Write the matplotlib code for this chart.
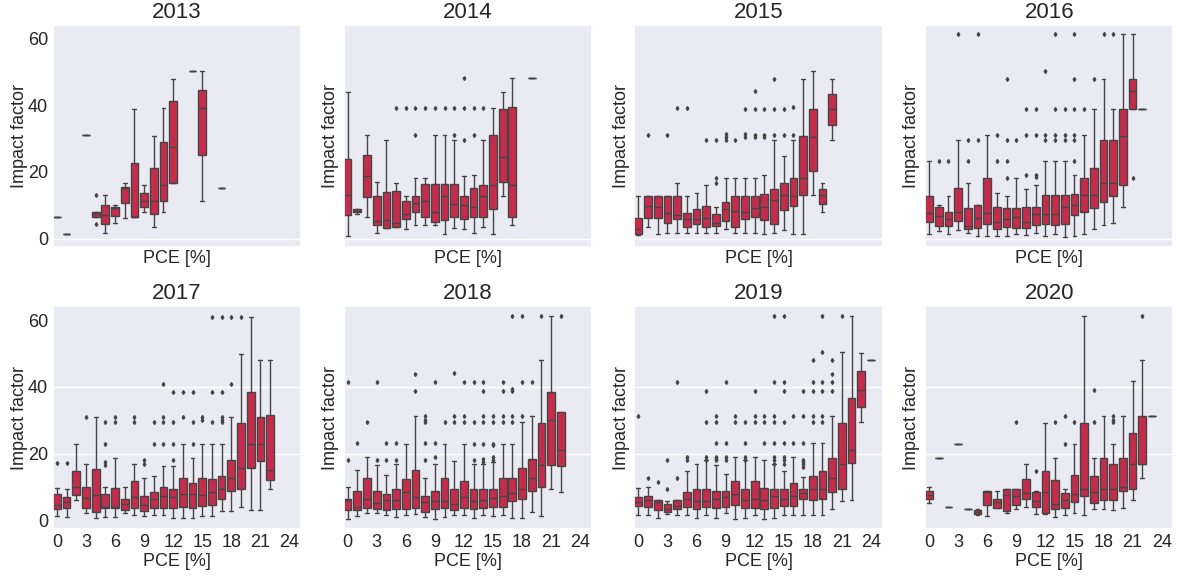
import matplotlib
matplotlib.use("Agg")
import matplotlib.pyplot as plt
import seaborn as sns

# ---- data, one set of box statistics per year ----
# 2013
pce_2013 = [0, 1, 3, 4, 5, 6, 7, 8, 9, 10, 11, 12, 14, 15, 17]
q1_2013 = [6.6, 1.5, 31.0, 6.6, 4.5, 6.8, 10.8, 6.5, 9.6, 7.3, 11.3, 16.6, 50.4, 25.2, 15.1]
med_2013 = [6.6, 1.5, 31.0, 7.5, 7.2, 9.2, 15.2, 6.6, 11.4, 11.4, 16.1, 27.6, 50.4, 39.1, 15.1]
q3_2013 = [6.6, 1.5, 31.0, 8.0, 10.0, 9.5, 15.6, 22.6, 13.8, 21.3, 28.9, 41.2, 50.4, 44.7, 15.1]
lo_2013 = [6.6, 1.5, 31.0, 6.6, 1.6, 4.6, 6.3, 6.5, 8.0, 3.5, 8.0, 16.6, 50.4, 11.3, 15.1]
hi_2013 = [6.6, 1.5, 31.0, 8.0, 13.0, 10.0, 16.7, 38.9, 16.1, 30.9, 39.2, 48.0, 50.4, 50.4, 15.1]
fl_2013 = [[], [], [], [13.0, 4.3], [], [], [], [], [], [], [], [], [], [], []]

# 2014
pce_2014 = [0, 1, 2, 3, 4, 5, 6, 7, 8, 9, 10, 11, 12, 13, 14, 15, 16, 17, 19]
q1_2014 = [7.1, 8.0, 12.6, 4.0, 3.3, 3.5, 5.8, 8.0, 6.6, 5.1, 5.6, 6.6, 5.8, 6.6, 6.6, 9.0, 17.0, 6.6, 48.1]
med_2014 = [13.2, 8.4, 18.9, 5.4, 5.7, 4.8, 7.5, 10.6, 11.4, 8.0, 12.9, 10.5, 10.0, 9.6, 12.9, 16.1, 24.6, 16.2, 48.1]
q3_2014 = [23.8, 8.8, 25.0, 12.8, 14.0, 14.3, 11.2, 12.9, 16.4, 16.4, 16.4, 16.4, 12.9, 15.1, 16.1, 31.0, 38.9, 39.5, 48.1]
lo_2014 = [0.8, 7.5, 6.6, 1.6, 3.2, 3.4, 3.0, 4.0, 4.2, 4.0, 1.5, 3.2, 3.0, 1.8, 3.4, 1.4, 12.8, 4.0, 48.1]
hi_2014 = [44.1, 9.0, 31.0, 17.0, 29.6, 16.6, 12.8, 18.2, 18.2, 31.0, 31.0, 29.6, 18.9, 19.0, 29.6, 39.1, 44.1, 48.1, 48.1]
fl_2014 = [[], [], [], [], [], [39.1], [39.1], [39.1, 31.1], [39.1], [39.1], [39.1], [39.1, 31.1],
           [48.1, 39.1, 29.7], [39.1, 31.1], [39.1], [], [], [], []]

# 2015
pce_2015 = list(range(0, 21))
q1_2015 = [1.3, 6.1, 6.1, 4.8, 5.8, 3.4, 4.3, 3.4, 3.8, 5.4, 3.4, 5.8, 6.6, 5.6, 4.5, 8.5, 9.8, 13.1, 20.2, 10.4, 34.2]
med_2015 = [2.8, 9.8, 9.6, 7.6, 7.2, 6.0, 5.8, 6.3, 4.6, 9.0, 8.2, 8.0, 9.3, 9.6, 11.5, 13.0, 12.8, 18.2, 30.4, 13.0, 38.9]
q3_2015 = [6.1, 12.8, 12.8, 12.8, 12.8, 7.8, 8.8, 9.8, 7.3, 11.1, 12.8, 12.8, 12.8, 13.5, 15.0, 16.6, 18.1, 30.9, 38.9, 14.8, 43.5]
lo_2015 = [1.1, 3.4, 1.5, 1.7, 1.7, 1.8, 1.8, 1.6, 1.8, 2.8, 1.8, 1.8, 1.8, 1.3, 1.6, 2.6, 1.5, 1.5, 13.0, 8.0, 29.6]
hi_2015 = [12.8, 12.8, 12.8, 12.8, 16.7, 12.8, 13.6, 16.1, 9.6, 18.2, 18.2, 18.2, 18.2, 19.0, 29.6, 24.8, 29.6, 48.0, 50.3, 16.6, 48.0]
fl_2015 = [[], [31.1], [], [31.1], [39.1], [39.1], [], [29.6], [29.6, 18.2, 16.8], [31.4, 30.4, 29.6], [29.6],
           [38.9, 31.4, 30.4], [44.2, 38.9, 31.1, 30.4], [38.9, 31.1, 30.4], [48.0, 38.9, 31.0], [38.9, 31.0],
           [39.5, 31.0], [], [], [], []]

# 2016
pce_2016 = list(range(0, 23))
q1_2016 = [5.1, 3.8, 3.8, 5.3, 2.8, 3.2, 4.5, 2.8, 3.5, 3.3, 3.3, 4.1, 4.5, 4.0, 4.3, 7.1, 8.0, 9.2, 11.1, 12.9, 16.0, 38.9, 38.9]
med_2016 = [7.6, 6.7, 5.8, 8.0, 3.8, 6.3, 7.6, 5.1, 5.8, 6.5, 5.1, 7.5, 7.5, 7.5, 9.5, 10.0, 13.0, 13.0, 16.6, 16.6, 30.9, 44.2, 38.9]
q3_2016 = [12.8, 9.6, 8.0, 15.3, 9.2, 10.1, 18.3, 9.5, 9.2, 9.2, 9.5, 9.5, 13.0, 13.0, 13.0, 13.5, 18.1, 21.1, 29.7, 29.7, 38.9, 48.0, 38.9]
lo_2016 = [1.5, 2.2, 1.5, 2.6, 1.8, 0.8, 0.8, 0.8, 0.8, 1.3, 1.0, 1.6, 0.8, 1.3, 0.5, 0.7, 1.5, 2.8, 4.0, 4.6, 9.5, 38.9, 38.9]
hi_2016 = [23.4, 10.0, 12.8, 29.6, 16.7, 10.1, 31.0, 13.6, 12.8, 18.2, 15.0, 16.1, 23.4, 23.4, 23.4, 19.1, 31.1, 38.9, 48.0, 38.9, 61.5, 61.5, 38.9]
fl_2016 = [[], [23.4], [23.4], [61.5], [29.6, 23.4], [61.5, 29.6], [], [31.1, 23.4], [48.0, 29.6, 23.3, 18.3],
           [29.6], [38.9, 31.0, 19.2], [38.9, 31.0, 19.2, 18.6], [50.2, 31.0, 29.6], [61.5, 38.9, 31.0, 29.6],
           [38.9, 31.0, 29.6], [61.5, 48.0, 38.9, 31.0, 29.6, 23.3], [38.9], [48.0], [61.5], [61.5], [], [18.3], []]

# 2017
pce_2017 = list(range(0, 23))
q1_2017 = [3.2, 3.5, 7.5, 3.5, 2.5, 3.5, 3.5, 3.0, 3.5, 2.8, 3.7, 3.7, 3.5, 3.8, 3.5, 4.2, 4.5, 6.3, 8.8, 9.2, 15.8, 17.8, 12.0]
med_2017 = [4.5, 5.5, 9.8, 6.5, 7.5, 4.0, 4.0, 4.8, 6.8, 4.5, 6.3, 7.1, 7.0, 7.7, 7.8, 7.5, 8.5, 9.3, 12.5, 15.8, 23.0, 23.0, 15.0]
q3_2017 = [7.8, 6.8, 14.8, 9.8, 15.5, 7.8, 9.5, 6.2, 11.7, 7.3, 8.3, 9.8, 9.2, 12.5, 11.0, 12.5, 12.2, 13.2, 18.0, 29.2, 38.5, 31.0, 31.5]
lo_2017 = [1.2, 0.8, 6.0, 2.0, 0.5, 0.8, 0.8, 2.0, 1.5, 1.2, 1.5, 1.5, 0.5, 0.5, 0.5, 1.2, 1.2, 2.8, 2.7, 4.0, 3.0, 3.0, 9.2]
hi_2017 = [9.7, 9.2, 23.0, 16.8, 31.0, 9.8, 18.8, 9.8, 16.8, 12.5, 13.2, 16.4, 16.4, 23.0, 18.8, 23.0, 23.0, 23.0, 31.0, 50.0, 61.0, 48.0, 48.0]
fl_2017 = [[17.2], [17.2], [], [31.0], [], [29.5, 23.0, 17.5, 16.5], [31.0, 29.5], [], [31.0, 29.5], [18.0, 17.0],
           [29.5, 23.0], [41.0, 31.0, 29.5, 23.0], [38.5, 29.5, 23.0, 18.0], [38.5, 31.0], [38.5, 29.5, 23.0],
           [31.0, 30.0], [61.0, 38.5, 29.5], [61.0, 38.5, 31.0, 30.0, 29.5], [61.0, 41.0], [61.0], [], [], []]

# 2018
pce_2018 = list(range(0, 23))
q1_2018 = [3.0, 3.0, 3.6, 3.2, 3.0, 3.4, 3.2, 3.6, 2.3, 3.2, 3.6, 3.0, 3.6, 3.2, 3.6, 4.0, 4.0, 5.8, 6.3, 8.6, 9.8, 16.5, 16.3]
med_2018 = [6.0, 4.0, 6.3, 5.0, 6.0, 6.0, 8.4, 6.8, 5.5, 5.8, 5.8, 4.7, 6.8, 5.7, 6.0, 6.5, 7.2, 8.2, 9.2, 12.6, 16.5, 30.2, 21.0]
q3_2018 = [6.2, 8.7, 12.6, 8.7, 7.9, 9.2, 12.2, 15.0, 7.2, 8.7, 12.6, 9.2, 11.8, 9.2, 9.2, 9.2, 12.6, 12.6, 15.8, 18.4, 29.3, 38.6, 32.4]
lo_2018 = [0.3, 1.3, 2.0, 2.0, 1.5, 1.0, 1.4, 1.8, 1.0, 0.4, 0.8, 1.5, 1.5, 0.5, 1.5, 1.2, 1.5, 0.5, 0.5, 2.5, 1.3, 9.2, 8.5]
hi_2018 = [9.8, 15.0, 18.9, 16.5, 13.4, 16.8, 23.0, 31.2, 12.5, 16.8, 23.0, 17.8, 23.0, 16.8, 16.8, 17.5, 23.0, 23.0, 29.5, 31.2, 48.0, 61.2, 32.4]
fl_2018 = [[41.5, 18.0], [23.2], [29.5], [41.5, 18.0], [23.2, 18.0], [23.2, 18.0], [], [44.0, 38.8],
           [31.2, 30.2, 29.5, 23.2, 18.0], [41.5, 23.2, 19.0], [29.5], [44.2, 31.2, 29.5], [41.5, 31.2, 29.5],
           [41.5, 29.5, 23.0, 18.0], [41.5, 38.8, 31.2, 29.5, 23.0, 18.4, 17.5], [31.2, 29.5, 23.0, 22.5, 19.0, 18.0],
           [41.5, 38.8, 31.2, 29.5], [61.2, 39.5, 38.8, 31.2, 29.5], [61.2, 41.5, 31.2], [41.5], [61.2], [], [61.2]]

# 2019
pce_2019 = list(range(0, 25))
q1_2019 = [4.2, 4.0, 3.0, 2.3, 3.4, 4.0, 3.4, 4.0, 3.6, 3.8, 4.4, 3.6, 3.6, 3.4, 3.6, 4.2, 4.2, 6.2, 6.0, 6.2, 8.4, 9.2, 17.2, 34.0, 48.0]
med_2019 = [5.5, 6.0, 5.5, 3.4, 4.2, 6.2, 5.8, 5.6, 6.4, 6.9, 7.8, 6.0, 6.4, 6.0, 7.2, 6.2, 7.2, 8.0, 9.2, 9.2, 12.6, 16.8, 21.0, 39.0, 48.0]
q3_2019 = [7.0, 7.2, 6.0, 4.8, 6.0, 8.4, 9.2, 9.4, 8.6, 8.8, 11.8, 9.2, 11.8, 9.6, 9.2, 9.2, 11.2, 9.2, 13.2, 14.8, 18.8, 29.2, 36.8, 44.8, 48.0]
lo_2019 = [1.4, 1.6, 0.7, 1.8, 1.4, 1.4, 0.5, 1.4, 0.5, 2.2, 0.4, 0.7, 1.4, 0.3, 0.5, 1.4, 1.4, 1.4, 1.4, 1.4, 3.4, 5.7, 6.0, 29.5, 48.0]
hi_2019 = [9.7, 10.0, 6.0, 5.8, 6.0, 14.8, 16.8, 18.0, 16.5, 13.8, 19.0, 18.0, 19.0, 18.0, 16.8, 14.8, 19.0, 13.0, 23.2, 23.2, 31.2, 50.4, 61.2, 50.2, 48.0]
fl_2019 = [[31.2], [12.7], [11.3], [18.0, 9.2], [41.5, 12.7], [19.0, 18.0], [], [38.8, 29.5, 19.0, 18.0],
           [31.2, 29.5, 23.2, 19.0, 18.5, 18.0], [41.5, 23.2, 19.0, 18.0], [31.2, 29.5], [29.5, 23.2, 19.0, 18.0],
           [38.8, 31.2, 29.5], [31.2, 29.5, 23.2], [61.2, 41.5, 31.2, 29.5, 23.2, 19.0, 18.0, 17.0],
           [61.2, 41.5, 38.8, 29.5, 23.2, 19.0, 18.0, 17.0], [31.2, 23.2], [38.8, 31.2, 23.2, 18.0, 17.5, 16.8, 16.0],
           [48.0, 41.5, 38.8, 31.2, 29.5], [61.2, 50.4, 41.5, 38.8, 31.2, 29.5], [48.0, 44.0, 41.5, 38.8],
           [61.2], [], [], []]

# 2020
pce_2020 = list(range(0, 24))
q1_2020 = [6.2, 18.8, 4.0, 23.0, 3.4, 1.8, 4.6, 3.6, 2.8, 4.4, 6.4, 4.0, 2.2, 3.4, 3.6, 5.4, 7.2, 5.2, 6.0, 6.0, 8.6, 9.2, 16.8, 31.2]
med_2020 = [7.5, 18.8, 4.0, 23.0, 3.4, 2.4, 8.4, 5.5, 7.5, 7.2, 8.0, 5.6, 8.4, 4.7, 5.9, 7.7, 9.2, 8.4, 9.2, 9.2, 9.8, 16.8, 17.0, 31.2]
q3_2020 = [8.6, 18.8, 4.0, 23.0, 3.4, 3.0, 8.6, 6.3, 9.2, 9.2, 12.2, 8.4, 14.8, 12.0, 8.0, 13.6, 29.3, 13.2, 18.8, 16.8, 18.8, 26.2, 31.2, 31.2]
lo_2020 = [5.2, 18.8, 4.0, 23.0, 3.4, 1.4, 1.2, 3.6, 2.2, 3.4, 3.8, 1.8, 1.8, 1.0, 1.4, 2.0, 1.4, 3.2, 3.4, 3.0, 3.6, 6.0, 12.6, 31.2]
hi_2020 = [9.8, 18.8, 4.0, 23.0, 3.4, 3.4, 8.8, 8.8, 9.2, 9.2, 16.8, 8.8, 29.3, 18.8, 9.2, 23.0, 61.2, 18.8, 31.2, 23.0, 31.2, 41.7, 48.0, 31.2]
fl_2020 = [[], [], [], [], [], [], [], [], [], [29.5], [], [14.8], [], [29.5], [31.2, 23.0], [29.5], [],
           [39.2, 29.5], [], [31.2, 30.2, 29.5], [], [], [61.2], []]

years = [2013, 2014, 2015, 2016, 2017, 2018, 2019, 2020]
pce = [pce_2013, pce_2014, pce_2015, pce_2016, pce_2017, pce_2018, pce_2019, pce_2020]
q1 = [q1_2013, q1_2014, q1_2015, q1_2016, q1_2017, q1_2018, q1_2019, q1_2020]
med = [med_2013, med_2014, med_2015, med_2016, med_2017, med_2018, med_2019, med_2020]
q3 = [q3_2013, q3_2014, q3_2015, q3_2016, q3_2017, q3_2018, q3_2019, q3_2020]
lo = [lo_2013, lo_2014, lo_2015, lo_2016, lo_2017, lo_2018, lo_2019, lo_2020]
hi = [hi_2013, hi_2014, hi_2015, hi_2016, hi_2017, hi_2018, hi_2019, hi_2020]
fl = [fl_2013, fl_2014, fl_2015, fl_2016, fl_2017, fl_2018, fl_2019, fl_2020]

x_ticks = list(range(0, 25, 3))
y_ticks = [0, 20, 40, 60]

sns.set_theme(style="darkgrid")
plt.rcParams['font.family'] = ['Liberation Sans', 'DejaVu Sans']

box_color = sns.desaturate("crimson", 0.75)
line_color = "#454545"

fig, axes = plt.subplots(2, 4, figsize=(11.78, 5.76), dpi=100)
fig.subplots_adjust(left=0.045, right=0.996, top=0.957, bottom=0.082, wspace=0.172, hspace=0.266)

for i, ax in enumerate(axes.flat):
    stats = [dict(q1=a, med=m, q3=b, whislo=l, whishi=h, fliers=f)
             for a, m, b, l, h, f in zip(q1[i], med[i], q3[i], lo[i], hi[i], fl[i])]
    ax.bxp(stats, positions=pce[i], widths=0.8, capwidths=0.4, patch_artist=True, manage_ticks=False,
           boxprops=dict(facecolor=box_color, edgecolor=line_color, linewidth=1),
           whiskerprops=dict(color=line_color, linewidth=1),
           capprops=dict(color=line_color, linewidth=1),
           medianprops=dict(color=line_color, linewidth=1),
           flierprops=dict(marker='d', markersize=2, markerfacecolor=line_color,
                           markeredgecolor=line_color))
    ax.set_xlim(-0.4, 25.2)
    ax.set_ylim(-2.6, 64.2)
    ax.set_xticks(x_ticks)
    ax.set_yticks(y_ticks)
    ax.grid(False)
    # only some grid lines survive in the reference
    ax.yaxis.remove_overlapping_locs = False
    ax.set_yticks([0] if i < 4 else [20, 40], minor=True)
    ax.grid(True, which='minor', axis='y', color='white', linewidth=1)
    ax.set_axisbelow(True)
    ax.tick_params(labelsize=13, length=0, which='both')
    ax.tick_params(labelbottom=(i >= 4), labelleft=(i % 4 == 0))
    ax.set_title(str(years[i]), fontsize=16, pad=5)
    ax.set_xlabel("PCE [%]", fontsize=13, labelpad=2)
    ax.set_ylabel("Impact factor", fontsize=13, labelpad=0)

fig.savefig("out.png", dpi=100)
